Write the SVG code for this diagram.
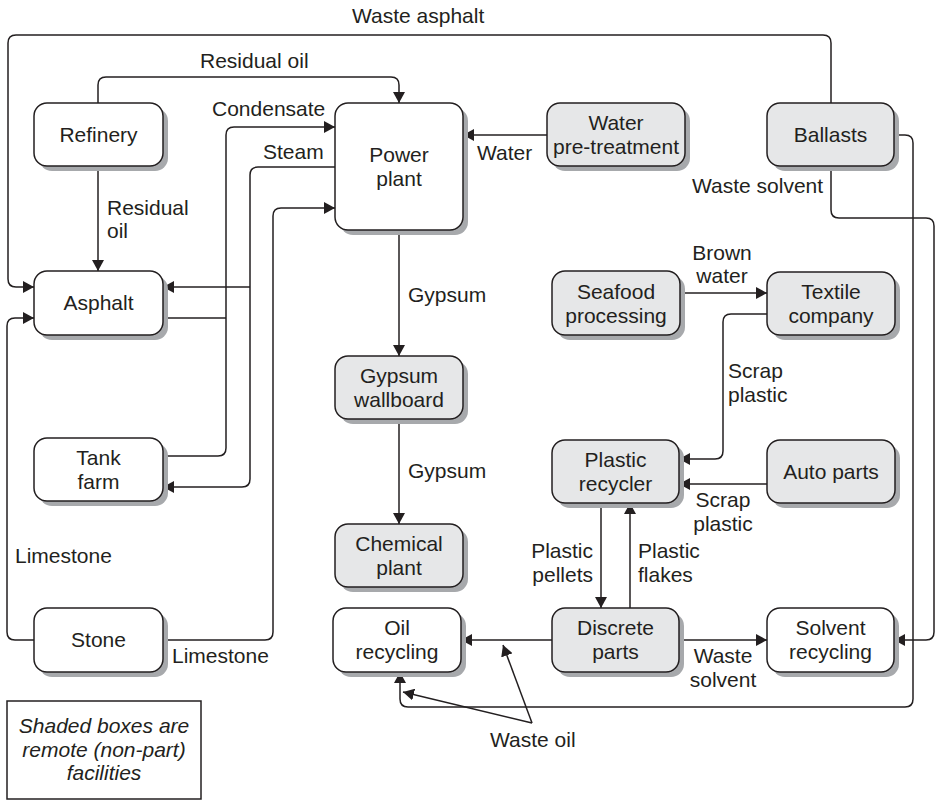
<svg xmlns="http://www.w3.org/2000/svg" width="940" height="801" viewBox="0 0 940 801">
<style>
.box{stroke:#231f20;stroke-width:1.5;fill:#fff}
.sh{fill:#e6e7e8}
.shadow{fill:#a7a9ac;stroke:none}
.t{font-family:"Liberation Sans",Arial,sans-serif;font-size:21px;fill:#231f20}
.c{text-anchor:middle}
.e{text-anchor:end}
.it{font-style:italic}
.ln{fill:none;stroke:#231f20;stroke-width:1.5}
</style>
<defs>
<marker id="ar" markerUnits="userSpaceOnUse" markerWidth="12" markerHeight="12" refX="11" refY="6" orient="auto">
<path d="M0,0 L11,6 L0,12 z" fill="#231f20"/>
</marker>
<symbol id="node"/>
</defs>
<rect width="940" height="801" fill="#fff"/>

<g id="connectors">
<path class="ln" d="M831,103 V43 Q831,35 823,35 H16 Q8,35 8,43 V279 Q8,287 16,287 H34" marker-end="url(#ar)"/>
<path class="ln" d="M98,103 V85 Q98,77 106,77 H391 Q399,77 399,85 V103" marker-end="url(#ar)"/>
<path class="ln" d="M98,166 V271" marker-end="url(#ar)"/>
<path class="ln" d="M163,318 H226"/>
<path class="ln" d="M163,456 H218 Q226,456 226,448 V135 Q226,127 234,127 H335" marker-end="url(#ar)"/>
<path class="ln" d="M335,167 H258 Q250,167 250,175 V479 Q250,487 242,487 H163" marker-end="url(#ar)"/>
<path class="ln" d="M250,287 H163" marker-end="url(#ar)"/>
<path class="ln" d="M163,640 H265 Q273,640 273,632 V216 Q273,208 281,208 H335" marker-end="url(#ar)"/>
<path class="ln" d="M34,640 H15 Q7,640 7,632 V326 Q7,318 15,318 H34" marker-end="url(#ar)"/>
<path class="ln" d="M547,135 H463" marker-end="url(#ar)"/>
<path class="ln" d="M399,230 V356" marker-end="url(#ar)"/>
<path class="ln" d="M399,419 V524" marker-end="url(#ar)"/>
<path class="ln" d="M831,166 V210 Q831,218 839,218 H926 Q934,218 934,226 V632 Q934,640 926,640 H894" marker-end="url(#ar)"/>
<path class="ln" d="M894,135 H905 Q913,135 913,143 V699 Q913,707 905,707 H408 Q400,707 400,699 V672" marker-end="url(#ar)"/>
<path class="ln" d="M680,293 H767" marker-end="url(#ar)"/>
<path class="ln" d="M767,314 H731 Q723,314 723,322 V451 Q723,459 715,459 H679" marker-end="url(#ar)"/>
<path class="ln" d="M767,484 H679" marker-end="url(#ar)"/>
<path class="ln" d="M601,503 V608" marker-end="url(#ar)"/>
<path class="ln" d="M630,608 V503" marker-end="url(#ar)"/>
<path class="ln" d="M552,640 H461" marker-end="url(#ar)"/>
<path class="ln" d="M679,640 H767" marker-end="url(#ar)"/>
<path class="ln" d="M532,723 L503,645" marker-end="url(#ar)"/>
<path class="ln" d="M532,723 L403,692" marker-end="url(#ar)"/>
</g>

<g id="edge-labels" class="t">
<text x="352" y="23">Waste asphalt</text>
<text x="200" y="68">Residual oil</text>
<text x="107" y="215">Residual</text>
<text x="107" y="238">oil</text>
<text x="212" y="116">Condensate</text>
<text x="263" y="159">Steam</text>
<text x="477" y="160">Water</text>
<text x="408" y="302">Gypsum</text>
<text x="408" y="478">Gypsum</text>
<text x="692" y="193">Waste solvent</text>
<text class="c" x="722" y="260">Brown</text>
<text class="c" x="722" y="283">water</text>
<text x="728" y="378">Scrap</text>
<text x="728" y="402">plastic</text>
<text class="c" x="723" y="507">Scrap</text>
<text class="c" x="723" y="531">plastic</text>
<text class="e" x="593" y="558">Plastic</text>
<text class="e" x="593" y="582">pellets</text>
<text x="638" y="558">Plastic</text>
<text x="638" y="582">flakes</text>
<text class="c" x="723" y="663">Waste</text>
<text class="c" x="723" y="687">solvent</text>
<text x="15" y="563">Limestone</text>
<text x="172" y="663">Limestone</text>
<text x="490" y="747">Waste oil</text>
</g>

<g id="refinery">
<rect class="shadow" x="39" y="108" width="129" height="63" rx="13"/>
<rect class="box" x="34" y="103" width="129" height="63" rx="13"/>
<text class="t c" x="98.5" y="141.5">Refinery</text>
</g>
<g id="asphalt">
<rect class="shadow" x="39" y="276" width="129" height="64" rx="13"/>
<rect class="box" x="34" y="271" width="129" height="64" rx="13"/>
<text class="t c" x="98.5" y="310">Asphalt</text>
</g>
<g id="tank-farm">
<rect class="shadow" x="39" y="443" width="129" height="63" rx="13"/>
<rect class="box" x="34" y="438" width="129" height="63" rx="13"/>
<text class="t c" x="98.5" y="465">Tank</text>
<text class="t c" x="98.5" y="489">farm</text>
</g>
<g id="stone">
<rect class="shadow" x="39" y="613" width="129" height="64" rx="13"/>
<rect class="box" x="34" y="608" width="129" height="64" rx="13"/>
<text class="t c" x="98.5" y="647">Stone</text>
</g>
<g id="power-plant">
<rect class="shadow" x="340" y="108" width="128" height="127" rx="13"/>
<rect class="box" x="335" y="103" width="128" height="127" rx="13"/>
<text class="t c" x="399" y="162">Power</text>
<text class="t c" x="399" y="186">plant</text>
</g>
<g id="water-pretreatment">
<rect class="shadow" x="552" y="108" width="138" height="63" rx="13"/>
<rect class="box sh" x="547" y="103" width="138" height="63" rx="13"/>
<text class="t c" x="616" y="130">Water</text>
<text class="t c" x="616" y="154">pre-treatment</text>
</g>
<g id="ballasts">
<rect class="shadow" x="772" y="108" width="127" height="63" rx="13"/>
<rect class="box sh" x="767" y="103" width="127" height="63" rx="13"/>
<text class="t c" x="830.5" y="141.5">Ballasts</text>
</g>
<g id="seafood-processing">
<rect class="shadow" x="557" y="276" width="128" height="64" rx="13"/>
<rect class="box sh" x="552" y="271" width="128" height="64" rx="13"/>
<text class="t c" x="616" y="299">Seafood</text>
<text class="t c" x="616" y="323">processing</text>
</g>
<g id="textile-company">
<rect class="shadow" x="772" y="277" width="128" height="63" rx="13"/>
<rect class="box sh" x="767" y="272" width="128" height="63" rx="13"/>
<text class="t c" x="831" y="299">Textile</text>
<text class="t c" x="831" y="323">company</text>
</g>
<g id="gypsum-wallboard">
<rect class="shadow" x="340" y="361" width="128" height="63" rx="13"/>
<rect class="box sh" x="335" y="356" width="128" height="63" rx="13"/>
<text class="t c" x="399" y="383">Gypsum</text>
<text class="t c" x="399" y="407">wallboard</text>
</g>
<g id="plastic-recycler">
<rect class="shadow" x="557" y="445" width="127" height="63" rx="13"/>
<rect class="box sh" x="552" y="440" width="127" height="63" rx="13"/>
<text class="t c" x="615.5" y="467">Plastic</text>
<text class="t c" x="615.5" y="491">recycler</text>
</g>
<g id="auto-parts">
<rect class="shadow" x="772" y="445" width="128" height="63" rx="13"/>
<rect class="box sh" x="767" y="440" width="128" height="63" rx="13"/>
<text class="t c" x="831" y="479">Auto parts</text>
</g>
<g id="chemical-plant">
<rect class="shadow" x="340" y="529" width="128" height="63" rx="13"/>
<rect class="box sh" x="335" y="524" width="128" height="63" rx="13"/>
<text class="t c" x="399" y="551">Chemical</text>
<text class="t c" x="399" y="575">plant</text>
</g>
<g id="oil-recycling">
<rect class="shadow" x="338" y="613" width="128" height="64" rx="13"/>
<rect class="box" x="333" y="608" width="128" height="64" rx="13"/>
<text class="t c" x="397" y="635">Oil</text>
<text class="t c" x="397" y="659">recycling</text>
</g>
<g id="discrete-parts">
<rect class="shadow" x="557" y="613" width="127" height="64" rx="13"/>
<rect class="box sh" x="552" y="608" width="127" height="64" rx="13"/>
<text class="t c" x="615.5" y="635">Discrete</text>
<text class="t c" x="615.5" y="659">parts</text>
</g>
<g id="solvent-recycling">
<rect class="shadow" x="772" y="613" width="127" height="64" rx="13"/>
<rect class="box" x="767" y="608" width="127" height="64" rx="13"/>
<text class="t c" x="830.5" y="635">Solvent</text>
<text class="t c" x="830.5" y="659">recycling</text>
</g>
<g id="legend">
<rect x="7" y="701" width="194" height="98" fill="#fff" stroke="#231f20" stroke-width="1.5"/>
<text class="t c it" x="104" y="733">Shaded boxes are</text>
<text class="t c it" x="104" y="757">remote (non-part)</text>
<text class="t c it" x="104" y="780">facilities</text>
</g>
</svg>
